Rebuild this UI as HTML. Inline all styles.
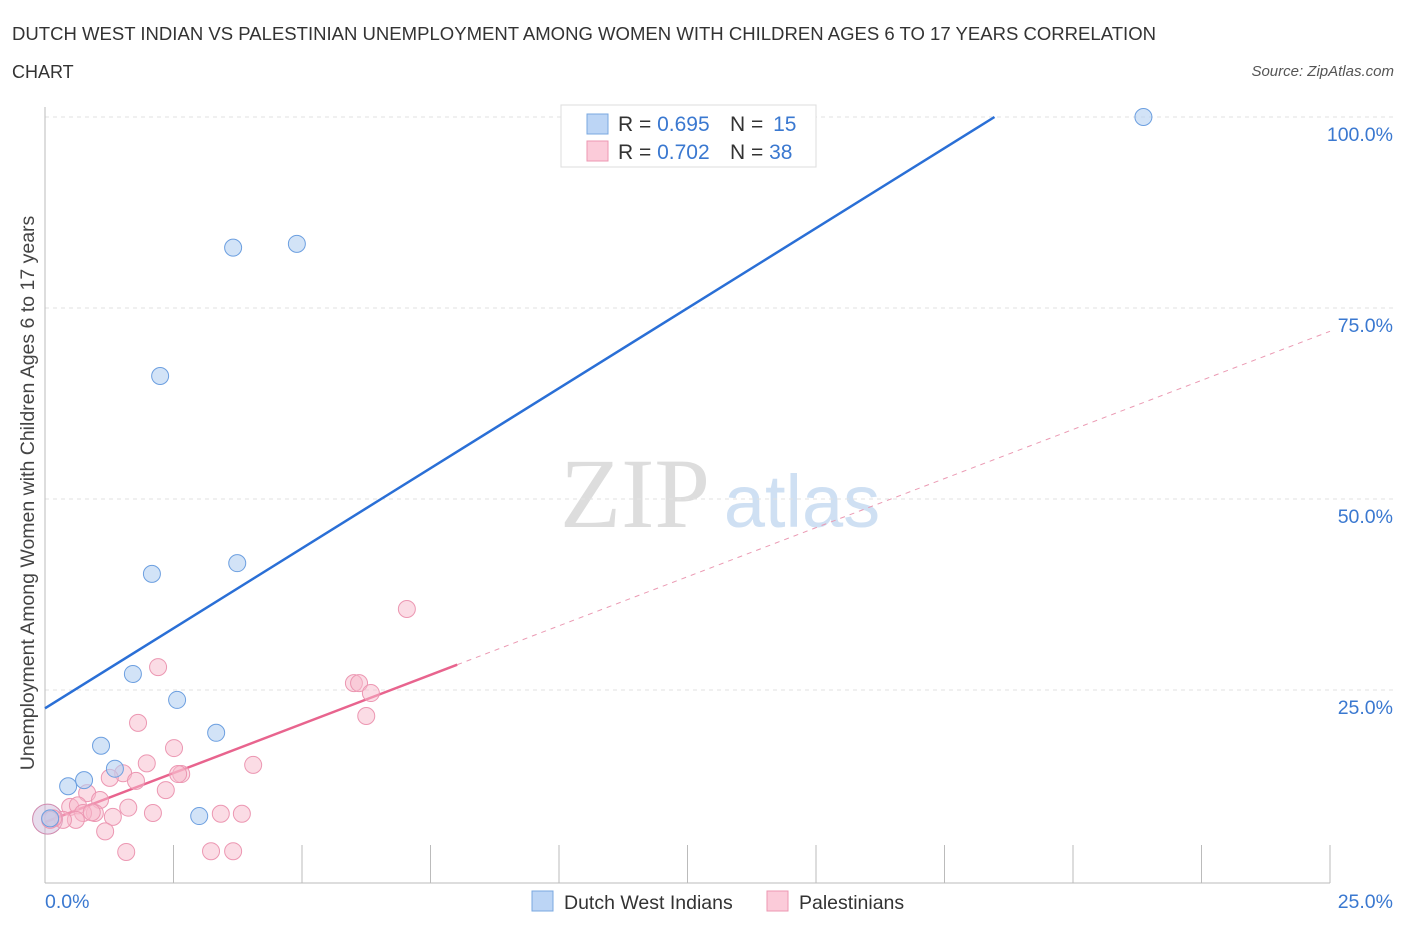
<!DOCTYPE html>
<html><head><meta charset="utf-8">
<style>
body{margin:0;background:#fff;font-family:"Liberation Sans",sans-serif;}
</style></head>
<body>
<svg id="chart" width="1406" height="930" viewBox="0 0 1406 930" xmlns="http://www.w3.org/2000/svg" font-family="Liberation Sans, sans-serif">
<text x="12" y="40" font-size="18" fill="#333" textLength="1144" lengthAdjust="spacingAndGlyphs">DUTCH WEST INDIAN VS PALESTINIAN UNEMPLOYMENT AMONG WOMEN WITH CHILDREN AGES 6 TO 17 YEARS CORRELATION</text>
<text x="12" y="78" font-size="18" fill="#333">CHART</text>
<text x="1394" y="76" font-size="15" fill="#555" font-style="italic" text-anchor="end">Source: ZipAtlas.com</text>
<text transform="translate(34,493) rotate(-90)" font-size="19.5" fill="#444" text-anchor="middle">Unemployment Among Women with Children Ages 6 to 17 years</text>
<g>
<text x="635" y="527" font-size="100" fill="#ddd" style="font-family:'Liberation Serif',serif" text-anchor="middle">ZIP</text>
<text x="802" y="527" font-size="74" fill="#cfe0f3" text-anchor="middle">atlas</text>
</g>
<g id="grid"></g>
<g id="axes"></g>
<g id="lines"></g>
<g id="points"></g>
<g>
<rect x="561" y="105" width="255" height="62" fill="#fff" stroke="#ddd"/>
<rect x="587" y="114" width="21" height="20" fill="#bcd5f5" stroke="#7aa8e0"/>
<text x="618" y="131" font-size="21" fill="#333">R = <tspan fill="#3a78d0">0.695</tspan></text>
<text x="730" y="131" font-size="21" fill="#333">N = <tspan fill="#3a78d0" dx="4">15</tspan></text>
<rect x="587" y="141" width="21" height="20" fill="#fbcbd9" stroke="#ec97b2"/>
<text x="618" y="159" font-size="21" fill="#333">R = <tspan fill="#3a78d0">0.702</tspan></text>
<text x="730" y="159" font-size="21" fill="#333">N = <tspan fill="#3a78d0">38</tspan></text>
</g>
<g>
<rect x="532" y="891" width="21" height="20" fill="#bcd5f5" stroke="#7aa8e0"/>
<text x="564" y="909" font-size="19.5" fill="#333">Dutch West Indians</text>
<rect x="767" y="891" width="21" height="20" fill="#fbcbd9" stroke="#ec97b2"/>
<text x="799" y="909" font-size="19.5" fill="#333">Palestinians</text>
</g>
</svg>
<script>
const blueX=[21.37,3.66,4.90,2.24,2.08,3.74,1.71,2.57,3.33,1.09,1.36,0.76,0.45,3.00,0.10];
const blueY=[100.0,82.9,83.4,66.1,40.2,41.6,27.1,23.7,19.4,17.7,14.7,13.2,12.4,8.5,8.2];
const pinkX=[2.20,1.81,2.51,1.98,1.52,1.26,1.77,2.65,2.59,2.35,4.05,0.82,1.07,0.49,0.64,1.62,0.97,0.74,1.32,0.60,0.35,0.16,0.10,2.10,3.42,3.83,1.17,1.58,3.23,3.66,6.01,6.11,6.34,6.25,7.04,0.91];
const pinkY=[28.0,20.7,17.4,15.4,14.1,13.5,13.1,14.0,14.0,11.9,15.2,11.5,10.6,9.7,9.9,9.6,8.9,8.9,8.4,8.0,8.0,8.2,8.0,8.9,8.8,8.8,6.5,3.8,3.9,3.9,25.9,25.9,24.6,21.6,35.6,9.0];
const blueFit=[22.6,4.19];
const pinkFit=[7.7,2.57];
const yTicks=[25,50,75,100];
const yTickLabels=["25.0%","50.0%","75.0%","100.0%"];
const xTickLabels=["0.0%","25.0%"];

const X0=45,X1=1330,Y0=881,Y100=117;
const sx=v=>X0+(v/25)*(X1-X0);
const sy=v=>Y0-(v/100)*(Y0-Y100);
const NS="http://www.w3.org/2000/svg";
function mk(tag,attrs,parent){const e=document.createElementNS(NS,tag);for(const k in attrs)e.setAttribute(k,attrs[k]);parent.appendChild(e);return e;}
const grid=document.getElementById('grid'),axes=document.getElementById('axes'),lines=document.getElementById('lines'),pts=document.getElementById('points');

yTicks.forEach((t,i)=>{
 const g=mk('line',{x1:X0,x2:1395,y1:sy(t),y2:sy(t),stroke:'#e2e2e2','stroke-dasharray':'4,4'},grid);
 
 
 const lb=mk('text',{x:1393,y:sy(t)+24,'font-size':19.5,fill:'#3a78d0','text-anchor':'end'},axes);
 lb.textContent=yTickLabels[i];
 
 
});
const ax=mk('line',{x1:X0,x2:X0,y1:107,y2:883,stroke:'#bbb'},axes);


const bx=mk('line',{x1:X0,x2:X1,y1:883,y2:883,stroke:'#bbb'},axes);


for(let i=1;i<=10;i++){
 const x=X0+i*(X1-X0)/10;
 const tk=mk('line',{x1:x,x2:x,y1:845,y2:883,stroke:'#bbb'},axes);
 
 
}
const xl0=mk('text',{x:45,y:908,'font-size':19.5,fill:'#3a78d0'},axes);xl0.textContent=xTickLabels[0];


const xl1=mk('text',{x:1393,y:908,'font-size':19.5,fill:'#3a78d0','text-anchor':'end'},axes);xl1.textContent=xTickLabels[1];



const bxEnd=(100-blueFit[0])/blueFit[1];
const bl=mk('line',{x1:sx(0),y1:sy(blueFit[0]),x2:sx(bxEnd),y2:sy(100),stroke:'#2a6fd6','stroke-width':2.5},lines);


const pSolid=8.02;
const pl=mk('line',{x1:sx(0),y1:sy(pinkFit[0]),x2:sx(pSolid),y2:sy(pinkFit[0]+pinkFit[1]*pSolid),stroke:'#e8648e','stroke-width':2.5},lines);


const pd=mk('line',{x1:sx(pSolid),y1:sy(pinkFit[0]+pinkFit[1]*pSolid),x2:sx(25),y2:sy(pinkFit[0]+pinkFit[1]*25),stroke:'#eb9ab3','stroke-width':1,'stroke-dasharray':'5,5'},lines);



const big=mk('circle',{cx:sx(0.05),cy:sy(8.1),r:15,fill:'#c9b2d4','fill-opacity':0.45,stroke:'#d08aae'},pts);


pinkX.forEach((x,i)=>{
 const c=mk('circle',{cx:sx(x),cy:sy(pinkY[i]),r:8.5,fill:'#f7b9cc','fill-opacity':0.5,stroke:'#ec97b2','stroke-width':1},pts);
 
 
});
blueX.forEach((x,i)=>{
 const c=mk('circle',{cx:sx(x),cy:sy(blueY[i]),r:8.5,fill:'#b4d0f2','fill-opacity':0.6,stroke:'#6c9fe0','stroke-width':1},pts);
 
 
});
</script>
</body></html>
